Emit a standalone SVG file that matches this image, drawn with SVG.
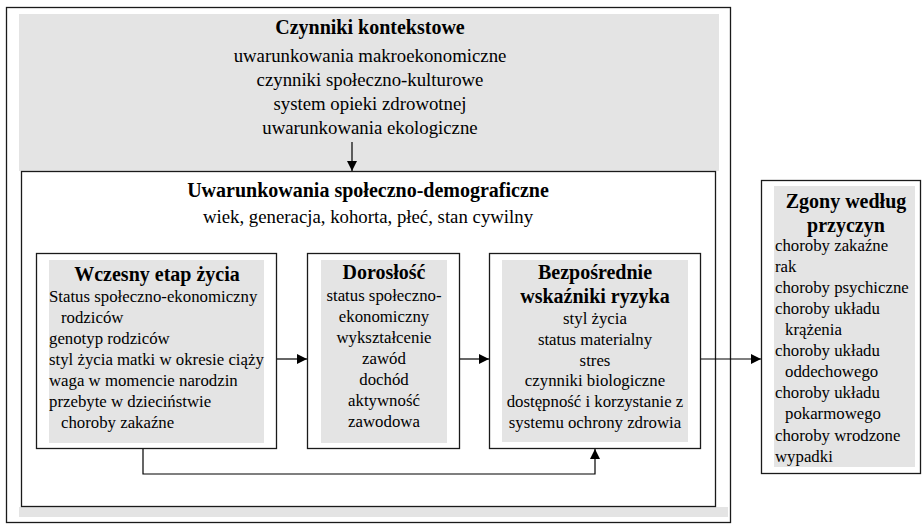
<svg xmlns="http://www.w3.org/2000/svg" width="922" height="524" viewBox="0 0 922 524">
<defs>
<style>
.frame{fill:#fff;stroke:#1a1a1a;stroke-width:1.3}
.shade{fill:#e4e4e4;stroke:none}
.t{font-family:"Liberation Serif","Times New Roman",serif;fill:#000}
.b{font-weight:bold;font-size:20px}
.r{font-size:16.8px}
.r19{font-size:18.8px}
.m{text-anchor:middle}
.c{fill:none;stroke:#000;stroke-width:1.2}
</style>
<marker id="ah" markerWidth="10" markerHeight="10" refX="10" refY="5" orient="auto" markerUnits="userSpaceOnUse">
<path d="M0,0 L10,5 L0,10 Z" fill="#000"/>
</marker>
</defs>
<rect width="922" height="524" fill="#fff"/>

<g id="outer">
<rect class="frame" x="6.5" y="7.5" width="724" height="515"/>
<rect class="shade" x="19" y="14" width="700" height="157"/>
<rect class="shade" x="19" y="507" width="709" height="10"/>
<text class="t b m" x="370" y="34">Czynniki kontekstowe</text>
<text class="t r19 m" x="370" y="62">uwarunkowania makroekonomiczne</text>
<text class="t r19 m" x="370" y="86">czynniki społeczno-kulturowe</text>
<text class="t r19 m" x="370" y="110">system opieki zdrowotnej</text>
<text class="t r19 m" x="370" y="134">uwarunkowania ekologiczne</text>
</g>

<g id="socio">
<rect class="frame" x="21.5" y="171.5" width="694" height="335"/>
<text class="t b m" x="368" y="197">Uwarunkowania społeczno-demograficzne</text>
<text class="t r19 m" x="368" y="223">wiek, generacja, kohorta, płeć, stan cywilny</text>
</g>

<g id="early">
<rect class="frame" x="36.5" y="253.5" width="240" height="195"/>
<rect class="shade" x="49" y="260" width="215" height="183"/>
<text class="t b m" x="157" y="281">Wczesny etap życia</text>
<text class="t r" x="49" y="302">Status społeczno-ekonomiczny</text>
<text class="t r" x="61" y="323">rodziców</text>
<text class="t r" x="49" y="344">genotyp rodziców</text>
<text class="t r" x="49" y="365">styl życia matki w okresie ciąży</text>
<text class="t r" x="49" y="386">waga w momencie narodzin</text>
<text class="t r" x="49" y="407">przebyte w dzieciństwie</text>
<text class="t r" x="61" y="428">choroby zakaźne</text>
</g>

<g id="adult">
<rect class="frame" x="307.5" y="253.5" width="152" height="195"/>
<rect class="shade" x="321" y="260" width="126" height="183"/>
<text class="t b m" x="384" y="279">Dorosłość</text>
<text class="t r m" x="384" y="301">status społeczno-</text>
<text class="t r m" x="384" y="322">ekonomiczny</text>
<text class="t r m" x="384" y="343">wykształcenie</text>
<text class="t r m" x="384" y="364">zawód</text>
<text class="t r m" x="384" y="385">dochód</text>
<text class="t r m" x="384" y="406">aktywność</text>
<text class="t r m" x="384" y="427">zawodowa</text>
</g>

<g id="risk">
<rect class="frame" x="489.5" y="253.5" width="211" height="195"/>
<rect class="shade" x="502" y="260" width="186" height="182"/>
<text class="t b m" x="595" y="279">Bezpośrednie</text>
<text class="t b m" x="595" y="303">wskaźniki ryzyka</text>
<text class="t r m" x="595" y="324">styl życia</text>
<text class="t r m" x="595" y="345">status materialny</text>
<text class="t r m" x="595" y="366">stres</text>
<text class="t r m" x="595" y="386">czynniki biologiczne</text>
<text class="t r m" x="595" y="407">dostępność i korzystanie z</text>
<text class="t r m" x="595" y="428">systemu ochrony zdrowia</text>
</g>

<g id="deaths">
<rect class="frame" x="761.5" y="180.5" width="159" height="293"/>
<rect class="shade" x="774" y="186" width="141" height="281"/>
<text class="t b m" x="846" y="208">Zgony według</text>
<text class="t b m" x="846" y="232">przyczyn</text>
<text class="t r" x="775" y="251">choroby zakaźne</text>
<text class="t r" x="775" y="272">rak</text>
<text class="t r" x="775" y="293">choroby psychiczne</text>
<text class="t r" x="775" y="314">choroby układu</text>
<text class="t r" x="785" y="335">krążenia</text>
<text class="t r" x="775" y="356">choroby układu</text>
<text class="t r" x="785" y="377">oddechowego</text>
<text class="t r" x="775" y="398">choroby układu</text>
<text class="t r" x="785" y="419">pokarmowego</text>
<text class="t r" x="775" y="441">choroby wrodzone</text>
<text class="t r" x="775" y="462">wypadki</text>
</g>

<g id="connectors">
<line class="c" x1="352" y1="142" x2="352" y2="171" marker-end="url(#ah)"/>
<line class="c" x1="277" y1="359" x2="307" y2="359" marker-end="url(#ah)"/>
<line class="c" x1="460" y1="359" x2="489" y2="359" marker-end="url(#ah)"/>
<line class="c" x1="701" y1="359" x2="761" y2="359" marker-end="url(#ah)"/>
<polyline class="c" points="143,449 143,474 595,474 595,449" marker-end="url(#ah)"/>
</g>
</svg>
